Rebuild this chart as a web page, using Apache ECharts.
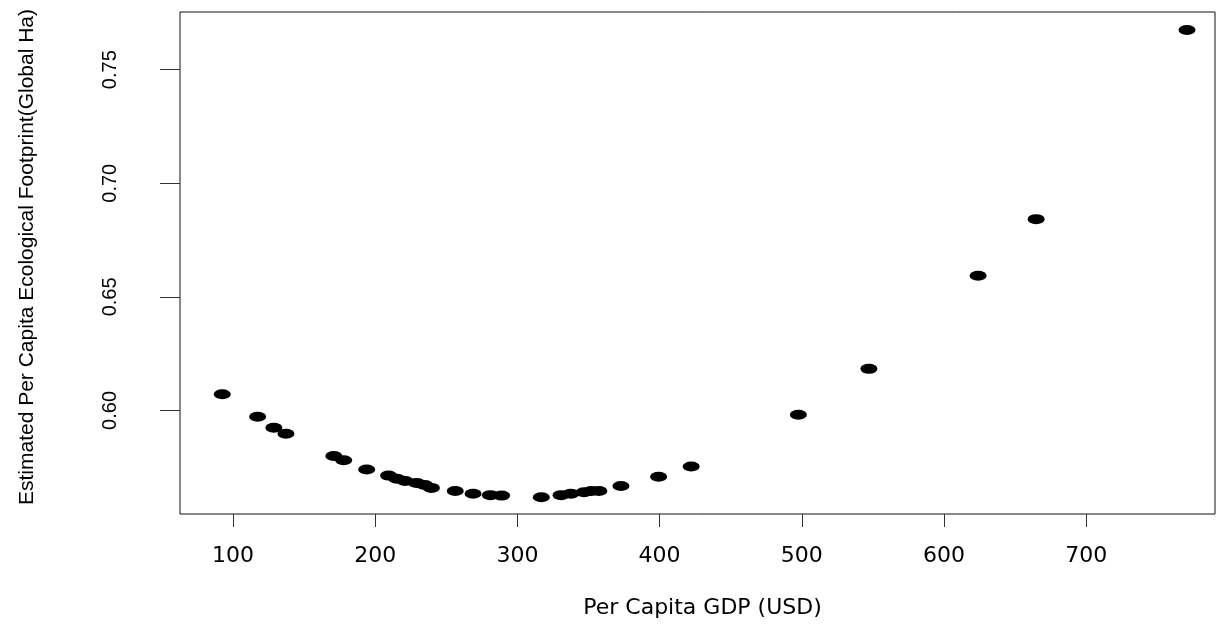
<!DOCTYPE html>
<html>
<head>
<meta charset="utf-8">
<script src="https://cdn.jsdelivr.net/npm/echarts@6/dist/echarts.min.js"></script>
<style>
  html, body { margin: 0; padding: 0; background: #fff; }
  #chart { width: 1217px; height: 624px; }
</style>
</head>
<body>
<div id="chart"></div>
<script>
// Per capita GDP (USD)
const gdp = [92.4, 117.3, 128.7, 137.2, 170.9, 177.8, 194.0, 209.4, 215.2, 221.0,
             229.1, 234.8, 239.5, 256.3, 268.8, 281.0, 288.9, 316.8, 330.7, 337.6,
             346.9, 352.0, 357.3, 372.8, 399.3, 422.2, 497.6, 547.2, 624.0, 664.8, 770.9];
// Estimated per capita ecological footprint (global ha)
const footprint = [0.6071, 0.5972, 0.5924, 0.5897, 0.5799, 0.5781, 0.5740, 0.5713, 0.5699, 0.5689,
                   0.5681, 0.5672, 0.5659, 0.5645, 0.5633, 0.5627, 0.5625, 0.5618, 0.5627, 0.5633,
                   0.5640, 0.5645, 0.5645, 0.5667, 0.5708, 0.5753, 0.5981, 0.6183, 0.6593, 0.6842, 0.7675];
const xTicks = [100, 200, 300, 400, 500, 600, 700];
const yTicks = [0.60, 0.65, 0.70, 0.75];
const xTitle = 'Per Capita GDP (USD)';
const yTitle = 'Estimated Per Capita Ecological Footprint(Global Ha)';

const points = gdp.map((g, i) => [g, footprint[i]]);

const chart = echarts.init(document.getElementById('chart'), null, { renderer: 'canvas' });
chart.setOption({
  backgroundColor: '#ffffff',
  animation: false,
  grid: {
    left: 180, right: 2, top: 12, bottom: 107,
    show: true, borderColor: '#111', borderWidth: 1, backgroundColor: 'transparent'
  },
  xAxis: {
    type: 'value',
    min: 62.7, max: 790.6,
    name: xTitle,
    nameLocation: 'middle',
    nameGap: 83,
    nameTextStyle: { fontFamily: 'DejaVu Sans', fontSize: 22, color: '#000', padding: [0, 0, 0, 10] },
    axisLine: { show: false },
    axisTick: { show: true, length: 13, lineStyle: { color: '#333', width: 1 }, customValues: xTicks },
    axisLabel: { fontFamily: 'DejaVu Sans', fontSize: 22, color: '#000', margin: 31, customValues: xTicks },
    splitLine: { show: false }
  },
  yAxis: {
    type: 'value',
    min: 0.5544, max: 0.7754,
    name: yTitle,
    nameLocation: 'middle',
    nameGap: 142,
    nameTextStyle: { fontFamily: 'Liberation Sans', fontSize: 21, color: '#000', padding: [0, 0, 0, 12] },
    axisLine: { show: false },
    axisTick: { show: true, length: 20, lineStyle: { color: '#333', width: 1 }, customValues: yTicks },
    axisLabel: {
      fontFamily: 'Liberation Sans', fontSize: 20, color: '#000', margin: 60, rotate: 90,
      customValues: yTicks,
      formatter: v => v.toFixed(2)
    },
    splitLine: { show: false }
  },
  series: [{
    type: 'scatter',
    data: points,
    symbol: 'circle',
    symbolSize: [17, 10],
    itemStyle: { color: '#000', opacity: 1 }
  }]
});
</script>
</body>
</html>
